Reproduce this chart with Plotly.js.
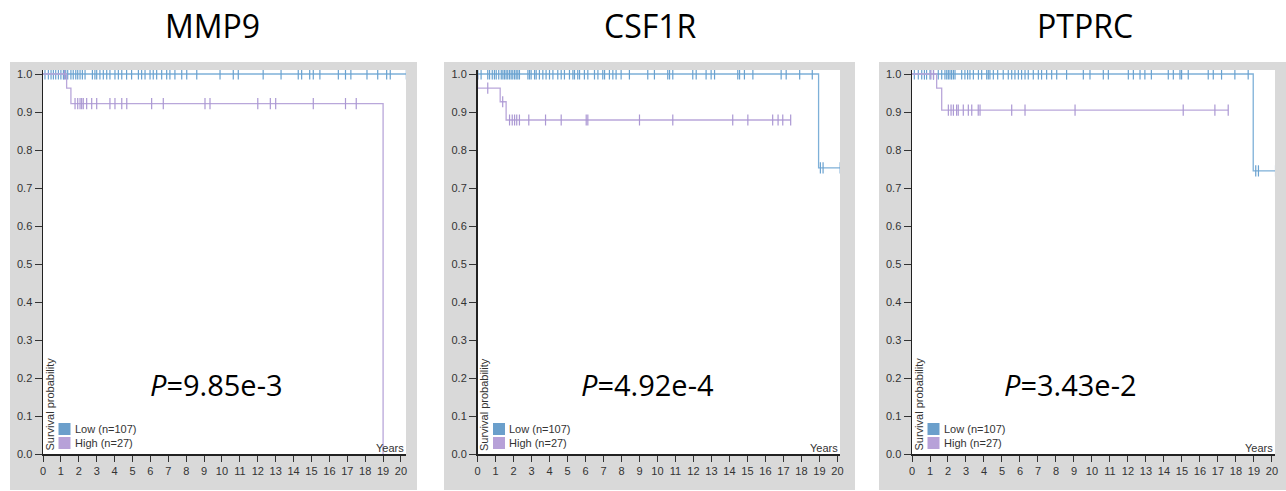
<!DOCTYPE html>
<html>
<head>
<meta charset="utf-8">
<script src="https://cdn.plot.ly/plotly-3.0.1.min.js"></script>
<style>html,body{margin:0;padding:0;background:#fff;}#chart{width:1286px;height:491px;}</style>
</head>
<body>
<div id="chart"></div>
<script>
// ---------------- data ----------------
const genes = ["MMP9", "CSF1R", "PTPRC"];
const pValues = ["9.85e-3", "4.92e-4", "3.43e-2"];
const groupLabels = ["Low (n=107)", "High (n=27)"];
const xTicks = [0,1,2,3,4,5,6,7,8,9,10,11,12,13,14,15,16,17,18,19,20];
const yTicks = [0,0.1,0.2,0.3,0.4,0.5,0.6,0.7,0.8,0.9,1.0];

// MMP9
const mmp9LowEventTimes = [];
const mmp9LowEventSurv = [];
const mmp9LowEnd = 20.3;
const mmp9LowCensor = [0.11,0.3,0.45,0.58,0.71,0.86,1.0,1.14,1.27,1.38,1.56,1.69,1.83,1.94,2.07,2.2,2.35,2.76,2.9,3.0,3.18,3.37,3.56,3.74,4.02,4.21,4.4,4.67,4.95,5.33,5.51,5.7,5.98,6.16,6.35,6.63,6.91,7.09,7.37,7.75,8.03,8.59,9.89,10.63,10.91,12.3,13.3,14.26,14.45,14.9,15.1,15.47,16.5,16.9,17.2,18.1,18.7,19.2,19.4,20.3];
const mmp9HighEventTimes = [1.32, 1.56, 19.0];
const mmp9HighEventSurv = [0.963, 0.922, 0.0];
const mmp9HighEnd = 19.0;
const mmp9HighCensor = [1.2,1.79,1.94,2.07,2.16,2.25,2.44,2.72,3.0,3.74,4.02,4.4,4.68,6.07,6.72,9.05,9.33,12.0,12.7,13.0,15.1,16.9,17.5];

// CSF1R
const csf1rLowEventTimes = [18.95];
const csf1rLowEventSurv = [0.753];
const csf1rLowEnd = 20.15;
const csf1rLowCensor = [0.02,0.2,0.57,0.67,0.82,0.94,1.04,1.18,1.32,1.41,1.5,1.59,1.68,1.78,1.87,1.96,2.06,2.15,2.24,2.33,2.8,2.89,2.98,3.17,3.26,3.44,3.63,3.81,4.0,4.19,4.46,4.65,4.83,5.11,5.3,5.39,5.57,5.67,5.94,6.13,6.5,6.69,6.96,7.06,7.33,7.52,7.7,7.98,8.44,9.46,9.83,10.57,10.67,10.85,11.96,12.15,12.7,12.98,13.17,14.46,14.56,14.83,15.3,16.87,17.15,17.9,18.6,19.05,19.2,20.15];
const csf1rHighEventTimes = [0.0, 1.26, 1.59];
const csf1rHighEventSurv = [0.963, 0.927, 0.879];
const csf1rHighEnd = 17.4;
const csf1rHighCensor = [0.57,1.4,1.78,1.93,2.06,2.18,2.33,2.85,3.78,4.65,6.04,6.13,9.0,10.85,14.18,15.02,16.4,16.7,16.96,17.4];

// PTPRC
const ptprcLowEventTimes = [18.96];
const ptprcLowEventSurv = [0.745];
const ptprcLowEnd = 20.2;
const ptprcLowCensor = [0.13,0.35,0.54,0.69,0.81,1.0,1.19,1.46,1.65,1.83,1.93,2.02,2.11,2.2,2.3,2.39,2.76,2.94,3.09,3.22,3.41,3.69,3.87,4.15,4.24,4.33,4.52,4.76,5.07,5.35,5.54,5.72,5.91,6.09,6.28,6.46,6.74,7.02,7.2,7.48,7.76,8.04,8.59,9.52,9.89,10.63,10.91,12.02,12.3,12.67,12.94,13.3,14.24,14.52,14.89,14.98,15.35,16.46,16.74,17.2,17.94,18.68,19.1,19.25,20.2];
const ptprcHighEventTimes = [1.37, 1.65];
const ptprcHighEventSurv = [0.963, 0.905];
const ptprcHighEnd = 17.57;
const ptprcHighCensor = [1.05,1.2,2.02,2.17,2.3,2.48,2.57,2.85,3.13,3.32,3.68,3.78,5.54,6.28,9.06,15.07,16.83,17.57];

// ---------------- build ----------------
const W = 1286, H = 491;
const px = x => x / W;
const py = y => 1 - y / H;

const colLow = "#7eb0d8", colLowMark = "#6aa2d0";
const colHigh = "#b9a7da", colHighMark = "#ab98d3";

const panels = [
  {low:[mmp9LowEventTimes,mmp9LowEventSurv,mmp9LowEnd,mmp9LowCensor], high:[mmp9HighEventTimes,mmp9HighEventSurv,mmp9HighEnd,mmp9HighCensor],
   box:[10,417], plot:[43,406], xmax:20.28},
  {low:[csf1rLowEventTimes,csf1rLowEventSurv,csf1rLowEnd,csf1rLowCensor], high:[csf1rHighEventTimes,csf1rHighEventSurv,csf1rHighEnd,csf1rHighCensor],
   box:[444,855], plot:[477.5,840], xmax:20.14},
  {low:[ptprcLowEventTimes,ptprcLowEventSurv,ptprcLowEnd,ptprcLowCensor], high:[ptprcHighEventTimes,ptprcHighEventSurv,ptprcHighEnd,ptprcHighCensor],
   box:[879,1286], plot:[912,1275], xmax:20.17}
];

function survAt(times, surv, t) {
  let s = 1;
  for (let i = 0; i < times.length; i++) if (times[i] <= t) s = surv[i];
  return s;
}

const traces = [];
const shapes = [];
const annotations = [];
const layout = {
  width: W, height: H,
  margin: {l:0, r:0, t:0, b:0},
  paper_bgcolor: "#ffffff",
  plot_bgcolor: "rgba(0,0,0,0)",
  showlegend: false,
  font: {family: "Liberation Sans, Arial, sans-serif", color: "#333"}
};

const plotTop = 70, plotBottom = 454, yPerUnit = 380;
const yMax = (plotBottom - plotTop) / yPerUnit;

panels.forEach((p, i) => {
  const n = i === 0 ? "" : String(i + 1);
  const xa = "x" + n, ya = "y" + n;
  layout["xaxis" + n] = {
    domain: [px(p.plot[0]), px(p.plot[1])], range: [0, p.xmax], anchor: ya,
    tickvals: xTicks, ticktext: xTicks.map(String), ticks: "outside", ticklen: 6, tickwidth: 1, tickcolor: "#333",
    showline: true, linecolor: "#222", linewidth: 1.5, showgrid: false, zeroline: false,
    tickfont: {size: 11, color: "#333", family: "Liberation Sans, Arial, sans-serif"}, fixedrange: true
  };
  layout["yaxis" + n] = {
    domain: [py(plotBottom), py(plotTop)], range: [0, yMax], anchor: xa,
    tickvals: yTicks, tickformat: ".1f", ticks: "outside", ticklen: 7, tickwidth: 1, tickcolor: "#333",
    showline: true, linecolor: "#222", linewidth: 1.5, showgrid: false, zeroline: false,
    tickfont: {size: 11, color: "#333", family: "Liberation Sans, Arial, sans-serif"}, fixedrange: true
  };

  [["low", colLow, colLowMark, groupLabels[0]], ["high", colHigh, colHighMark, groupLabels[1]]].forEach(([g, c, cm, name]) => {
    const [et, es, end, cens] = p[g];
    const xs = [0].concat(et, [end]);
    const ys = [1].concat(es, [survAt(et, es, end)]);
    traces.push({x: xs, y: ys, xaxis: xa, yaxis: ya, mode: "lines", line: {shape: "hv", color: c, width: 1.3}, name: name, hoverinfo: "skip"});
    traces.push({x: cens, y: cens.map(t => survAt(et, es, t)), xaxis: xa, yaxis: ya, mode: "markers",
      marker: {symbol: "line-ns-open", size: 8, color: cm, line: {color: cm, width: 1.2}}, name: name, hoverinfo: "skip"});
  });

  // gray panel background and white plotting area
  shapes.push({type: "rect", xref: "paper", yref: "paper", x0: px(p.box[0]), x1: px(p.box[1]), y0: py(490), y1: py(62), fillcolor: "#d9d9d9", line: {width: 0}, layer: "below"});
  shapes.push({type: "rect", xref: "paper", yref: "paper", x0: px(p.plot[0]), x1: px(p.plot[1]), y0: py(plotBottom), y1: py(plotTop), fillcolor: "#ffffff", line: {width: 0}, layer: "below"});

  const ax = p.plot[0];
  // legend squares
  shapes.push({type: "rect", xref: "paper", yref: "paper", x0: px(ax + 15.5), x1: px(ax + 27.5), y0: py(435), y1: py(423), fillcolor: "#6b9fcb", line: {width: 0}});
  shapes.push({type: "rect", xref: "paper", yref: "paper", x0: px(ax + 15.5), x1: px(ax + 27.5), y0: py(449), y1: py(437), fillcolor: "#b7a1d8", line: {width: 0}});
  annotations.push({xref: "paper", yref: "paper", x: px(ax + 29.5), y: py(429), xanchor: "left", yanchor: "middle", text: groupLabels[0], showarrow: false, font: {size: 11, color: "#333"}});
  annotations.push({xref: "paper", yref: "paper", x: px(ax + 29.5), y: py(443), xanchor: "left", yanchor: "middle", text: groupLabels[1], showarrow: false, font: {size: 11, color: "#333"}});
  // axis titles inside
  annotations.push({xref: "paper", yref: "paper", x: px(p.plot[1]), y: py(448), xanchor: "right", yanchor: "middle", text: "Years", showarrow: false, font: {size: 11, color: "#333"}});
  annotations.push({xref: "paper", yref: "paper", x: px(ax + 6), y: py(453), xanchor: "center", yanchor: "bottom", text: "Survival probability", textangle: -90, showarrow: false, font: {size: 11, color: "#333"}});
  // gene title
  const centers = [212, 650, 1085];
  annotations.push({xref: "paper", yref: "paper", x: px(centers[i]), y: py(26), xanchor: "center", yanchor: "middle", text: genes[i], showarrow: false, font: {size: 32, color: "#000", family: "Open Sans, sans-serif"}});
  const pCenters = [216, 647, 1070];
  annotations.push({xref: "paper", yref: "paper", x: px(pCenters[i]), y: py(384), xanchor: "center", yanchor: "middle", text: "<i>P</i>=" + pValues[i], showarrow: false, font: {size: 29, color: "#000", family: "Open Sans, sans-serif"}});
});

layout.shapes = shapes;
layout.annotations = annotations;

Plotly.newPlot("chart", traces, layout, {displayModeBar: false, staticPlot: true});
</script>
</body>
</html>
